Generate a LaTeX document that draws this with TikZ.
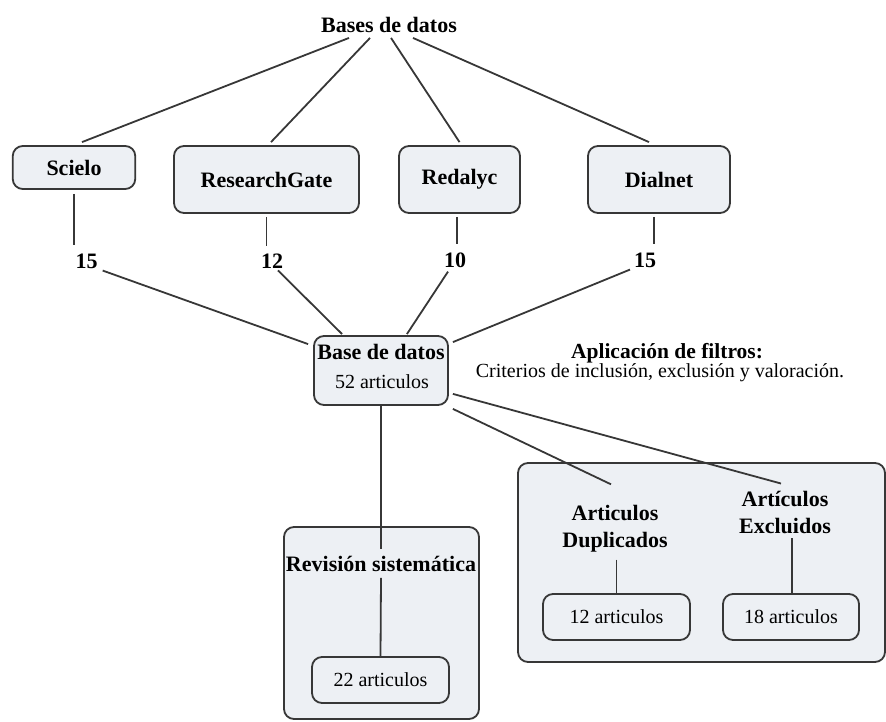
\documentclass[tikz,border=0pt]{standalone}
\usepackage{fontspec}
\setmainfont{LiberationSerif}[Extension=.ttf,UprightFont=*-Regular,BoldFont=*-Bold,ItalicFont=*-Italic,BoldItalicFont=*-BoldItalic]
\usetikzlibrary{calc}
\definecolor{boxfill}{RGB}{237,240,244}
\definecolor{ln}{RGB}{55,55,55}
\begin{document}
\begin{tikzpicture}[x=1pt,y=-1pt,
  conn/.style={draw=ln,line width=1.8pt},
  bx/.style={draw=ln,line width=1.8pt,fill=boxfill,rounded corners=10pt,inner sep=0pt,align=center},
  btxt/.style={font=\fontsize{22}{27}\selectfont\bfseries,inner sep=0pt,align=center},
  rtxt/.style={font=\fontsize{20}{24}\selectfont,inner sep=0pt,align=center},
]
\useasboundingbox (0,0) rectangle (886,722);
\clip (0,0) rectangle (886,722);

% containers
\node[bx,minimum width=195pt,minimum height=192pt] (revbox) at (381.5,623) {};
\node[bx,minimum width=367pt,minimum height=199pt] (rbox) at (701.5,562.5) {};

% top
\node[btxt] (top) at (389,25) {Bases de datos};

% databases
\node[bx,minimum width=122.5pt,minimum height=43pt,font=\fontsize{22}{27}\selectfont\bfseries] (scielo) at (74,167.5) {Scielo};
\node[bx,minimum width=185pt,minimum height=67pt,font=\fontsize{22}{27}\selectfont\bfseries] (rg) at (266.5,179.5) {ResearchGate};
\node[bx,minimum width=121pt,minimum height=67pt,font=\fontsize{22}{27}\selectfont\bfseries] (red) at (459.5,179.5) {Redalyc};
\node[bx,minimum width=142pt,minimum height=67pt,font=\fontsize{22}{27}\selectfont\bfseries] (dial) at (659,179.5) {Dialnet};

% numbers
\node[btxt] (n1) at (86.5,261) {15};
\node[btxt] (n2) at (272,261) {12};
\node[btxt] (n3) at (455,260) {10};
\node[btxt] (n4) at (645,260) {15};

% base
\node[bx,minimum width=134pt,minimum height=69pt] (base) at (381,370.5) {};
\node[btxt] (baset) at (381,352) {Base de datos};
\node[rtxt] (basen) at (382,382) {52 articulos};

% filters
\node[btxt,font=\fontsize{21.5}{26}\selectfont\bfseries] (filt1) at (667,353) {Aplicación de filtros:};
\node[rtxt] (filt2) at (660,373) {Criterios de inclusión, exclusión y valoración.};

% revision
\node[btxt,fill=boxfill] (revt) at (381,564) {Revisión sistemática};
\node[bx,minimum width=137pt,minimum height=46pt,font=\fontsize{20}{24}\selectfont] (a22) at (380.5,680) {22 articulos};

% duplicates / excluded
\node[btxt] (dup) at (615,529) {Articulos\\Duplicados};
\node[btxt] (exc) at (785,512) {Artículos\\Excluidos};
\node[bx,minimum width=147pt,minimum height=46pt,font=\fontsize{20}{24}\selectfont] (a12) at (616.5,617) {12 articulos};
\node[bx,minimum width=136pt,minimum height=46pt,font=\fontsize{20}{24}\selectfont] (a18) at (791,617) {18 articulos};

% connectors top -> databases
\draw[conn] ($(top.south)+(-40,5)$) -- ($(scielo.north)+(8,-3)$);
\draw[conn] ($(top.south)+(-19,5)$) -- ($(rg.north)+(4.5,-3)$);
\draw[conn] ($(top.south)+(2,5)$) -- ($(red.north)+(0,-3)$);
\draw[conn] ($(top.south)+(24,5)$) -- ($(dial.north)+(-10,-3)$);

% databases -> numbers
\draw[conn] ($(scielo.south)+(0,4)$) -- ($(scielo.south |- n1.north)+(0,-8)$);
\draw[conn] ($(rg.south)+(0,3)$) -- ($(rg.south |- n2.north)+(0,-8)$);
\draw[conn] ($(red.south)+(-2.5,3)$) -- ($(red.south |- n3.north)+(-2.5,-8)$);
\draw[conn] ($(dial.south)+(-5,3)$) -- ($(dial.south |- n4.north)+(-5,-8)$);

% numbers -> base
\draw[conn] ($(n1.south east)+(5,2)$) -- ($(base.north west)+(-5,9)$);
\draw[conn] ($(n2.south)+(6,2)$) -- ($(base.north west)+(29,-1)$);
\draw[conn] ($(n3.south)+(-7,4)$) -- ($(base.north east)+(-42,-1)$);
\draw[conn] ($(n4.south)+(-15,2)$) -- ($(base.north east)+(4,7)$);

% base -> revision
\draw[conn] (base.south) -- ($(revt.north)+(0,-7)$);
\draw[conn] ($(revt.south)+(0,6)$) -- (a22.north);

% base -> dup / exc
\draw[conn] ($(base.south east)+(4,3)$) -- ($(dup.north)+(-4,-21)$);
\draw[conn] ($(base.south east)+(4,-12)$) -- ($(exc.north)+(-4,-7)$);
\draw[conn] ($(dup.south -| a12.north)+(0,7)$) -- (a12.north);
\draw[conn] ($(exc.south -| a18.north)+(1,5)$) -- ($(a18.north)+(1,0)$);
\end{tikzpicture}
\end{document}
